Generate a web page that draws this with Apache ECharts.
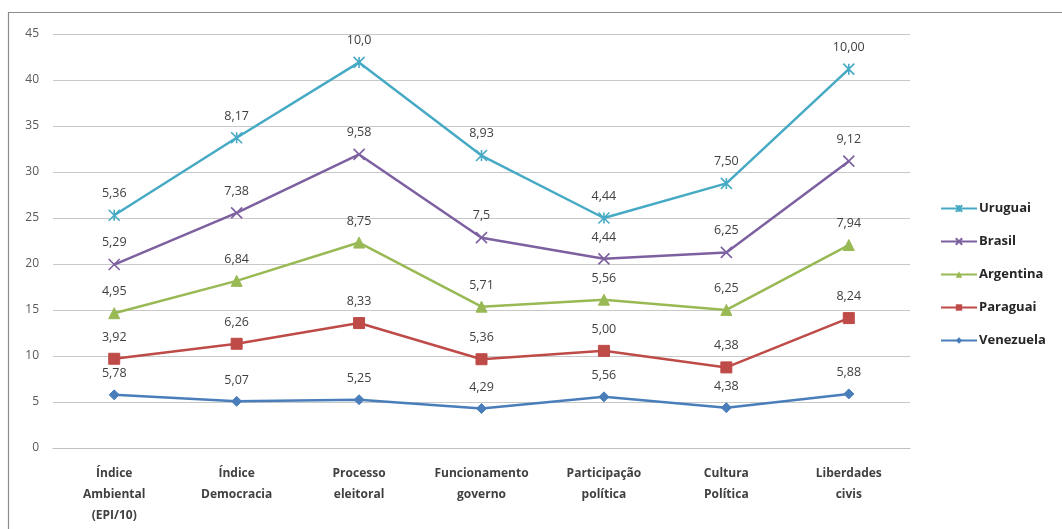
<!DOCTYPE html>
<html>
<head>
<meta charset="utf-8">
<script src="https://cdn.jsdelivr.net/npm/echarts@6/dist/echarts.min.js"></script>
<style>
  html, body { margin: 0; padding: 0; background: #fff; }
  #chart { width: 1062px; height: 529px; }
</style>
</head>
<body>
<div id="chart"></div>
<script>
const categories = ['Índice\nAmbiental\n(EPI/10)', 'Índice\nDemocracia', 'Processo\neleitoral',
  'Funcionamento\ngoverno', 'Participação\npolítica', 'Cultura\nPolítica', 'Liberdades\ncivis'];

const venezuela = [5.78, 5.07, 5.25, 4.29, 5.56, 4.38, 5.88];
const paraguai = [3.92, 6.26, 8.33, 5.36, 5.00, 4.38, 8.24];
const argentina = [4.95, 6.84, 8.75, 5.71, 5.56, 6.25, 7.94];
const brasil = [5.29, 7.38, 9.58, 7.5, 4.44, 6.25, 9.12];
const uruguai = [5.36, 8.17, 10.0, 8.93, 4.44, 7.50, 10.00];

// texto dos rótulos como aparece no original
const venezuelaLabels = ['5,78', '5,07', '5,25', '4,29', '5,56', '4,38', '5,88'];
const paraguaiLabels = ['3,92', '6,26', '8,33', '5,36', '5,00', '4,38', '8,24'];
const argentinaLabels = ['4,95', '6,84', '8,75', '5,71', '5,56', '6,25', '7,94'];
const brasilLabels = ['5,29', '7,38', '9,58', '7,5', '4,44', '6,25', '9,12'];
const uruguaiLabels = ['5,36', '8,17', '10,0', '8,93', '4,44', '7,50', '10,00'];

const yTicks = { min: 0, max: 45, interval: 5 };

const font = "'Open Sans', 'Liberation Sans', sans-serif";

const makeSeries = (name, data, labels, color, symbol, symbolSize, stroke) => ({
  name: name,
  type: 'line',
  stack: 'total',
  data: data,
  symbol: symbol,
  symbolSize: symbolSize,
  showAllSymbol: true,
  lineStyle: { color: color, width: 2.5 },
  itemStyle: stroke
    ? { color: 'rgba(0,0,0,0)', borderColor: color, borderWidth: 1.6 }
    : { color: color, borderColor: color },
  label: {
    show: true,
    position: 'top',
    distance: 9,
    color: '#404040',
    fontFamily: font,
    fontSize: 12.5,
    formatter: (p) => labels[p.dataIndex],
  },
  emphasis: { disabled: true },
});

const xPath = 'path://M0,0L10,10M10,0L0,10';
const starPath = 'path://M0,0L10,10M10,0L0,10M5,0L5,10';

const chart = echarts.init(document.getElementById('chart'));
chart.setOption({
  animation: false,
  backgroundColor: '#fff',
  grid: { left: 53, right: 152, top: 34, bottom: 81 },
  graphic: [{
    type: 'rect',
    shape: { x: 8.5, y: 12.5, width: 1100, height: 600 },
    style: { fill: 'none', stroke: '#8c8c8c', lineWidth: 1.2 },
    silent: true,
  }],
  legend: {
    orient: 'vertical',
    left: 935,
    top: 197,
    itemGap: 20,
    itemWidth: 36,
    itemHeight: 8,
    data: ['Uruguai', 'Brasil', 'Argentina', 'Paraguai', 'Venezuela'],
    textStyle: { fontFamily: font, fontSize: 13, fontWeight: 'bold', color: '#262626', padding: [0, 0, 0, -3] },
  },
  xAxis: {
    type: 'category',
    data: categories,
    axisLine: { lineStyle: { color: '#bfbfbf', width: 1 } },
    axisTick: { show: false },
    axisLabel: {
      color: '#404040', fontFamily: font, fontSize: 12, fontWeight: 'bold',
      margin: 15, lineHeight: 21, interval: 0,
    },
  },
  yAxis: {
    type: 'value',
    min: yTicks.min, max: yTicks.max, interval: yTicks.interval,
    axisLine: { show: false },
    axisTick: { show: false },
    splitLine: { lineStyle: { color: '#c8c8c8', width: 1 } },
    axisLabel: { color: '#595959', fontFamily: font, fontSize: 12, margin: 14 },
  },
  series: [
    makeSeries('Venezuela', venezuela, venezuelaLabels, '#4a7ebb', 'diamond', 10, false),
    makeSeries('Paraguai', paraguai, paraguaiLabels, '#be4b48', 'rect', 11, false),
    makeSeries('Argentina', argentina, argentinaLabels, '#98b954', 'triangle', 11, false),
    makeSeries('Brasil', brasil, brasilLabels, '#7d60a0', xPath, 11, true),
    makeSeries('Uruguai', uruguai, uruguaiLabels, '#46aac5', starPath, 11, true),
  ],
});
</script>
</body>
</html>
